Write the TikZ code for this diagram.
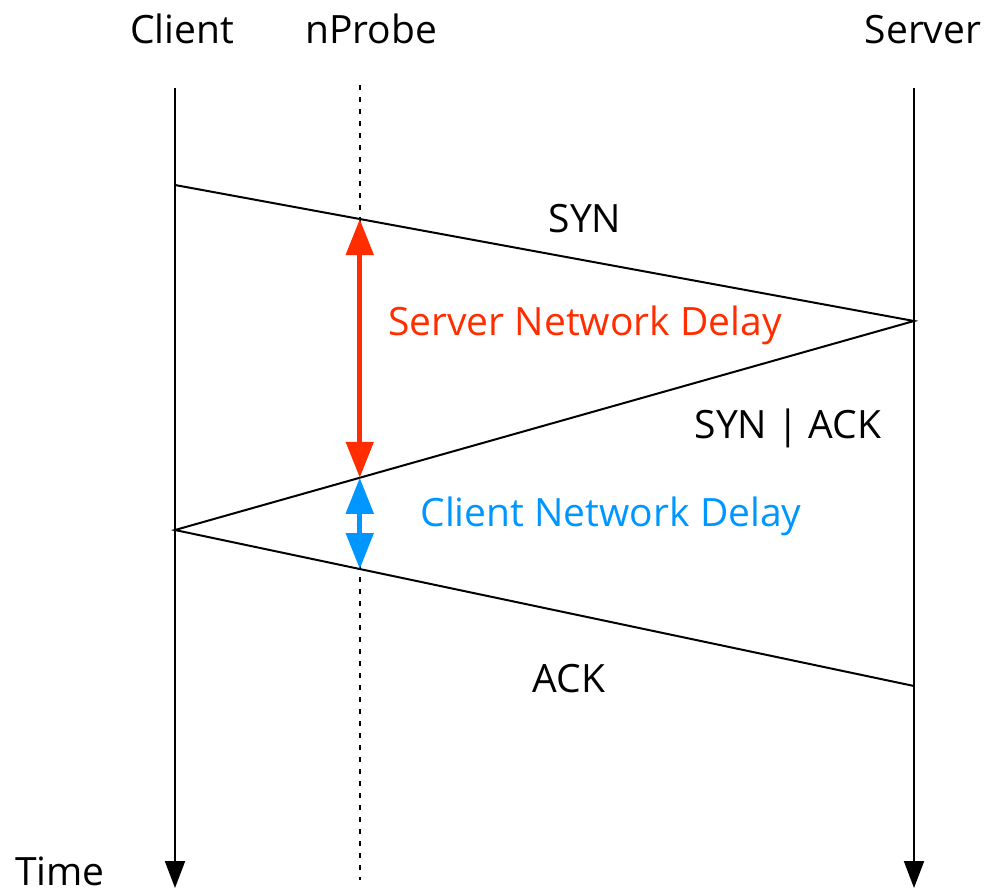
\documentclass[tikz,border=0pt]{standalone}
\usepackage{fontspec}
\setmainfont{Open Sans}
\usetikzlibrary{arrows.meta,calc}
\definecolor{delayred}{RGB}{255,45,0}
\definecolor{delayblue}{RGB}{0,150,255}

\begin{document}
\begin{tikzpicture}
		[x=0.5pt, y=-0.5pt,
		 font=\fontsize{19.5}{23}\selectfont,
		 lbl/.style={anchor=base, inner sep=0pt},
		 timeline/.style={line width=1pt, -{Triangle[length=13.5pt,width=10pt]}},
		 probeline/.style={line width=1.1pt, dash pattern=on 2.5pt off 3.5pt},
		 msg/.style={line width=1pt},
		 delay/.style={line width=2.5pt, {Triangle[length=18pt,width=13.5pt]}-{Triangle[length=18pt,width=13.5pt]}}]
		\useasboundingbox (0,0) rectangle (984,894);
		% time lines
		\coordinate (ctop) at (175,88);   \coordinate (cbot) at (175,888);
		\coordinate (ptop) at (360,85);   \coordinate (pbot) at (360,880);
		\coordinate (stop) at (914,88);   \coordinate (sbot) at (914,888);
		\draw[timeline] (ctop) -- (cbot);
		\draw[timeline] (stop) -- (sbot);
		\draw[probeline] (ptop) -- (pbot);
		% handshake
		\coordinate (sync) at (175,185);
		\coordinate (syns) at (914,321);
		\coordinate (ackc) at (175,530);
		\coordinate (acks) at (914,686);
		\draw[msg] (sync) -- (syns) -- (ackc) -- (acks);
		\coordinate (psyn) at ($(sync)!0.25!(syns)$);
		\coordinate (psynack) at ($(syns)!0.75!(ackc)$);
		\coordinate (pack) at ($(ackc)!0.25!(acks)$);
		\draw[delay, delayred] (psyn) -- (psynack);
		\draw[delay, delayblue] (psynack) -- (pack);
		% labels
		\path	(182,43) node[lbl] (client) {Client}
				(371,43) node[lbl] (nprobe) {nProbe}
				(923,43) node[lbl] (server) {Server}
				(60,885) node[lbl] (time) {Time}
				(585,232) node[lbl] (syn) {SYN}
				(788,438) node[lbl] (synack) {SYN | ACK}
				(569,692) node[lbl] (ack) {ACK}
				(585,335) node[lbl, text=delayred] (snd) {Server Network Delay}
				(611,526) node[lbl, text=delayblue] (cnd) {Client Network Delay} ;
	\end{tikzpicture}
\end{document}
